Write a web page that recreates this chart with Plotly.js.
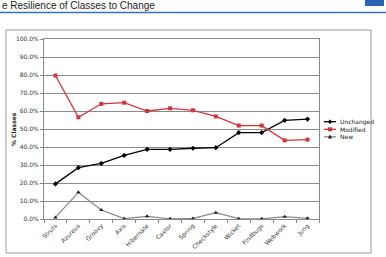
<!DOCTYPE html>
<html><head><meta charset="utf-8">
<script src="https://cdn.plot.ly/plotly-3.0.1.min.js"></script>
<style>html,body{margin:0;padding:0;background:#fff;}#chart{width:386px;height:257px;}</style>
</head><body><div id="chart"></div>
<script>
const categories = ["Struts","Azureus","Groovy","Axis","Hibernate","Castor","Spring","Checkstyle","Wicket","Findbugs","Webwork","Jung"];
const unchanged = [0.195,0.285,0.309,0.354,0.387,0.387,0.393,0.396,0.480,0.480,0.548,0.555];
const modified  = [0.797,0.565,0.640,0.646,0.600,0.615,0.604,0.570,0.519,0.519,0.437,0.441];
const newer     = [0.009,0.148,0.050,0.002,0.015,0.001,0.003,0.035,0.002,0.001,0.013,0.004];
const seriesNames = ["Unchanged","Modified","New"];
const lineColors = ['#000000','#d2353b','#8c8c8c'];
const markerColors = ['#000000','#d2353b','#222222'];

const L=44,R=319,T=39,B=219;
const px=x=>(x-L)/(R-L), py=y=>(B-y)/(B-T);

const series=[unchanged,modified,newer];
const symbols=['diamond','square','triangle-up'];
const traces=series.map((s,i)=>({x:categories,y:s,name:seriesNames[i],type:'scatter',mode:'lines+markers',
  line:{color:lineColors[i],width:1.3},marker:{symbol:symbols[i],size:4,color:markerColors[i]},showlegend:false}));

// manual legend (decoration)
const shapes=[
  {type:'rect',xref:'paper',yref:'paper',x0:px(6),x1:px(371),y0:py(253),y1:py(30),
   line:{color:'#9a9a9a',width:1},layer:'below'},
  {type:'line',xref:'paper',yref:'paper',x0:px(0),x1:px(386),y0:py(12.5),y1:py(12.5),
   line:{color:'#3a6fb0',width:1.5}},
  {type:'rect',xref:'paper',yref:'paper',x0:px(365),x1:px(384),y0:py(6),y1:py(-1),
   line:{width:0},fillcolor:'#2a64b4'}
];
const annotations=[
  {text:'e Resilience of Classes to Change',xref:'paper',yref:'paper',x:px(0),y:py(5),
   xanchor:'left',yanchor:'middle',showarrow:false,font:{family:'Liberation Sans',size:10,color:'#222'}},
  {text:'<b>% Classes</b>',xref:'paper',yref:'paper',x:px(13),y:py(129),textangle:-90,
   xanchor:'center',yanchor:'middle',showarrow:false,font:{size:6,color:'#222'}}
];
const rows=[121.7,129.3,136.8];
rows.forEach((ry,i)=>{
  shapes.push({type:'line',xref:'paper',yref:'paper',x0:px(324),x1:px(336),y0:py(ry),y1:py(ry),
    line:{color:lineColors[i],width:1.3}});
  const cx=330,c=markerColors[i];
  if(i===0) shapes.push({type:'path',xref:'paper',yref:'paper',
    path:`M ${px(cx)} ${py(ry-2.2)} L ${px(cx+2.2)} ${py(ry)} L ${px(cx)} ${py(ry+2.2)} L ${px(cx-2.2)} ${py(ry)} Z`,
    fillcolor:c,line:{width:0}});
  if(i===1) shapes.push({type:'rect',xref:'paper',yref:'paper',x0:px(cx-2),x1:px(cx+2),y0:py(ry+2),y1:py(ry-2),
    fillcolor:c,line:{width:0}});
  if(i===2) shapes.push({type:'path',xref:'paper',yref:'paper',
    path:`M ${px(cx)} ${py(ry-2.2)} L ${px(cx+2.2)} ${py(ry+1.8)} L ${px(cx-2.2)} ${py(ry+1.8)} Z`,
    fillcolor:c,line:{width:0}});
  annotations.push({text:seriesNames[i],xref:'paper',yref:'paper',x:px(338),y:py(ry),xanchor:'left',yanchor:'middle',
    showarrow:false,font:{size:6,color:'#222'}});
});

const layout={
 width:386,height:257,margin:{l:L,r:386-R,t:T,b:257-B},
 paper_bgcolor:'#ffffff',plot_bgcolor:'#ffffff',showlegend:false,
 font:{family:'DejaVu Sans',size:6,color:'#333'},
 xaxis:{type:'category',tickangle:-45,ticks:'outside',ticklen:3,tickson:'boundaries',
   tickcolor:'#888',showgrid:false,showline:true,linecolor:'#888',linewidth:1,mirror:true,
   range:[-0.5,11.5],tickfont:{size:6,color:'#333'},fixedrange:true},
 yaxis:{range:[0,1],dtick:0.1,tickformat:'.1%',ticks:'outside',ticklen:3,tickcolor:'#888',
   showgrid:true,gridcolor:'#8a8a8a',gridwidth:1,showline:true,linecolor:'#888',mirror:true,
   zeroline:false,tickfont:{size:6,color:'#333'},fixedrange:true},
 shapes:shapes,annotations:annotations
};
Plotly.newPlot('chart',traces,layout,{staticPlot:true,displayModeBar:false});
</script></body></html>
